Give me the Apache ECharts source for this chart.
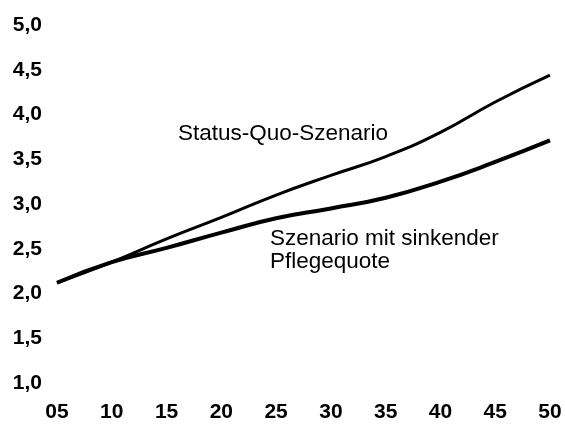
<!DOCTYPE html>
<html>
<head>
<meta charset="utf-8">
<script src="https://cdn.jsdelivr.net/npm/echarts@6/dist/echarts.min.js"></script>
<style>
  html, body { margin: 0; padding: 0; background: #fff; }
  #chart { width: 565px; height: 428px; }
</style>
</head>
<body>
<div id="chart"></div>
<script>
// Jahre (20xx) und Werte der beiden Szenarien
const years = [5, 10, 15, 20, 25, 30, 35, 40, 45, 50];
const statusQuo = [2.12, 2.35, 2.61, 2.85, 3.10, 3.32, 3.53, 3.80, 4.14, 4.44];
const sinkendePflegequote = [2.12, 2.35, 2.51, 2.68, 2.84, 2.95, 3.07, 3.25, 3.47, 3.71];
const yTicks = [1, 1.5, 2, 2.5, 3, 3.5, 4, 4.5, 5];

const font = "'Liberation Sans', Arial, sans-serif";

const chart = echarts.init(document.getElementById("chart"));

const option = {
  animation: false,
  backgroundColor: "#fff",
  grid: { left: 57, right: 15, top: 25, bottom: 45 },
  xAxis: {
    type: "value",
    min: 5,
    max: 50,
    interval: 5,
    axisLine: { show: false },
    axisTick: { show: false },
    splitLine: { show: false },
    axisLabel: {
      margin: 19,
      color: "#000",
      fontFamily: font,
      fontWeight: "bold",
      fontSize: 21,
      formatter: (v) => String(v).padStart(2, "0"),
    },
  },
  yAxis: {
    type: "value",
    min: yTicks[0],
    max: yTicks[yTicks.length - 1],
    interval: 0.5,
    axisLine: { show: false },
    axisTick: { show: false },
    splitLine: { show: false },
    axisLabel: {
      margin: 15,
      color: "#000",
      fontFamily: font,
      fontWeight: "bold",
      fontSize: 21,
      formatter: (v) => v.toFixed(1).replace(".", ","),
    },
  },
  series: [
    {
      name: "Status-Quo-Szenario",
      type: "line",
      smooth: true,
      symbol: "none",
      lineStyle: { color: "#000", width: 3 },
      data: years.map((y, i) => [y, statusQuo[i]]),
    },
    {
      name: "Szenario mit sinkender Pflegequote",
      type: "line",
      smooth: true,
      symbol: "none",
      lineStyle: { color: "#000", width: 4 },
      data: years.map((y, i) => [y, sinkendePflegequote[i]]),
    },
  ],
  graphic: [
    {
      type: "text",
      left: 178,
      top: 122,
      style: {
        text: "Status-Quo-Szenario",
        fill: "#000",
        font: "22.5px " + font,
      },
    },
    {
      type: "text",
      left: 270,
      top: 227,
      style: {
        text: "Szenario mit sinkender\nPflegequote",
        fill: "#000",
        font: "22.5px " + font,
        lineHeight: 23,
      },
    },
  ],
};

chart.setOption(option);
</script>
</body>
</html>
